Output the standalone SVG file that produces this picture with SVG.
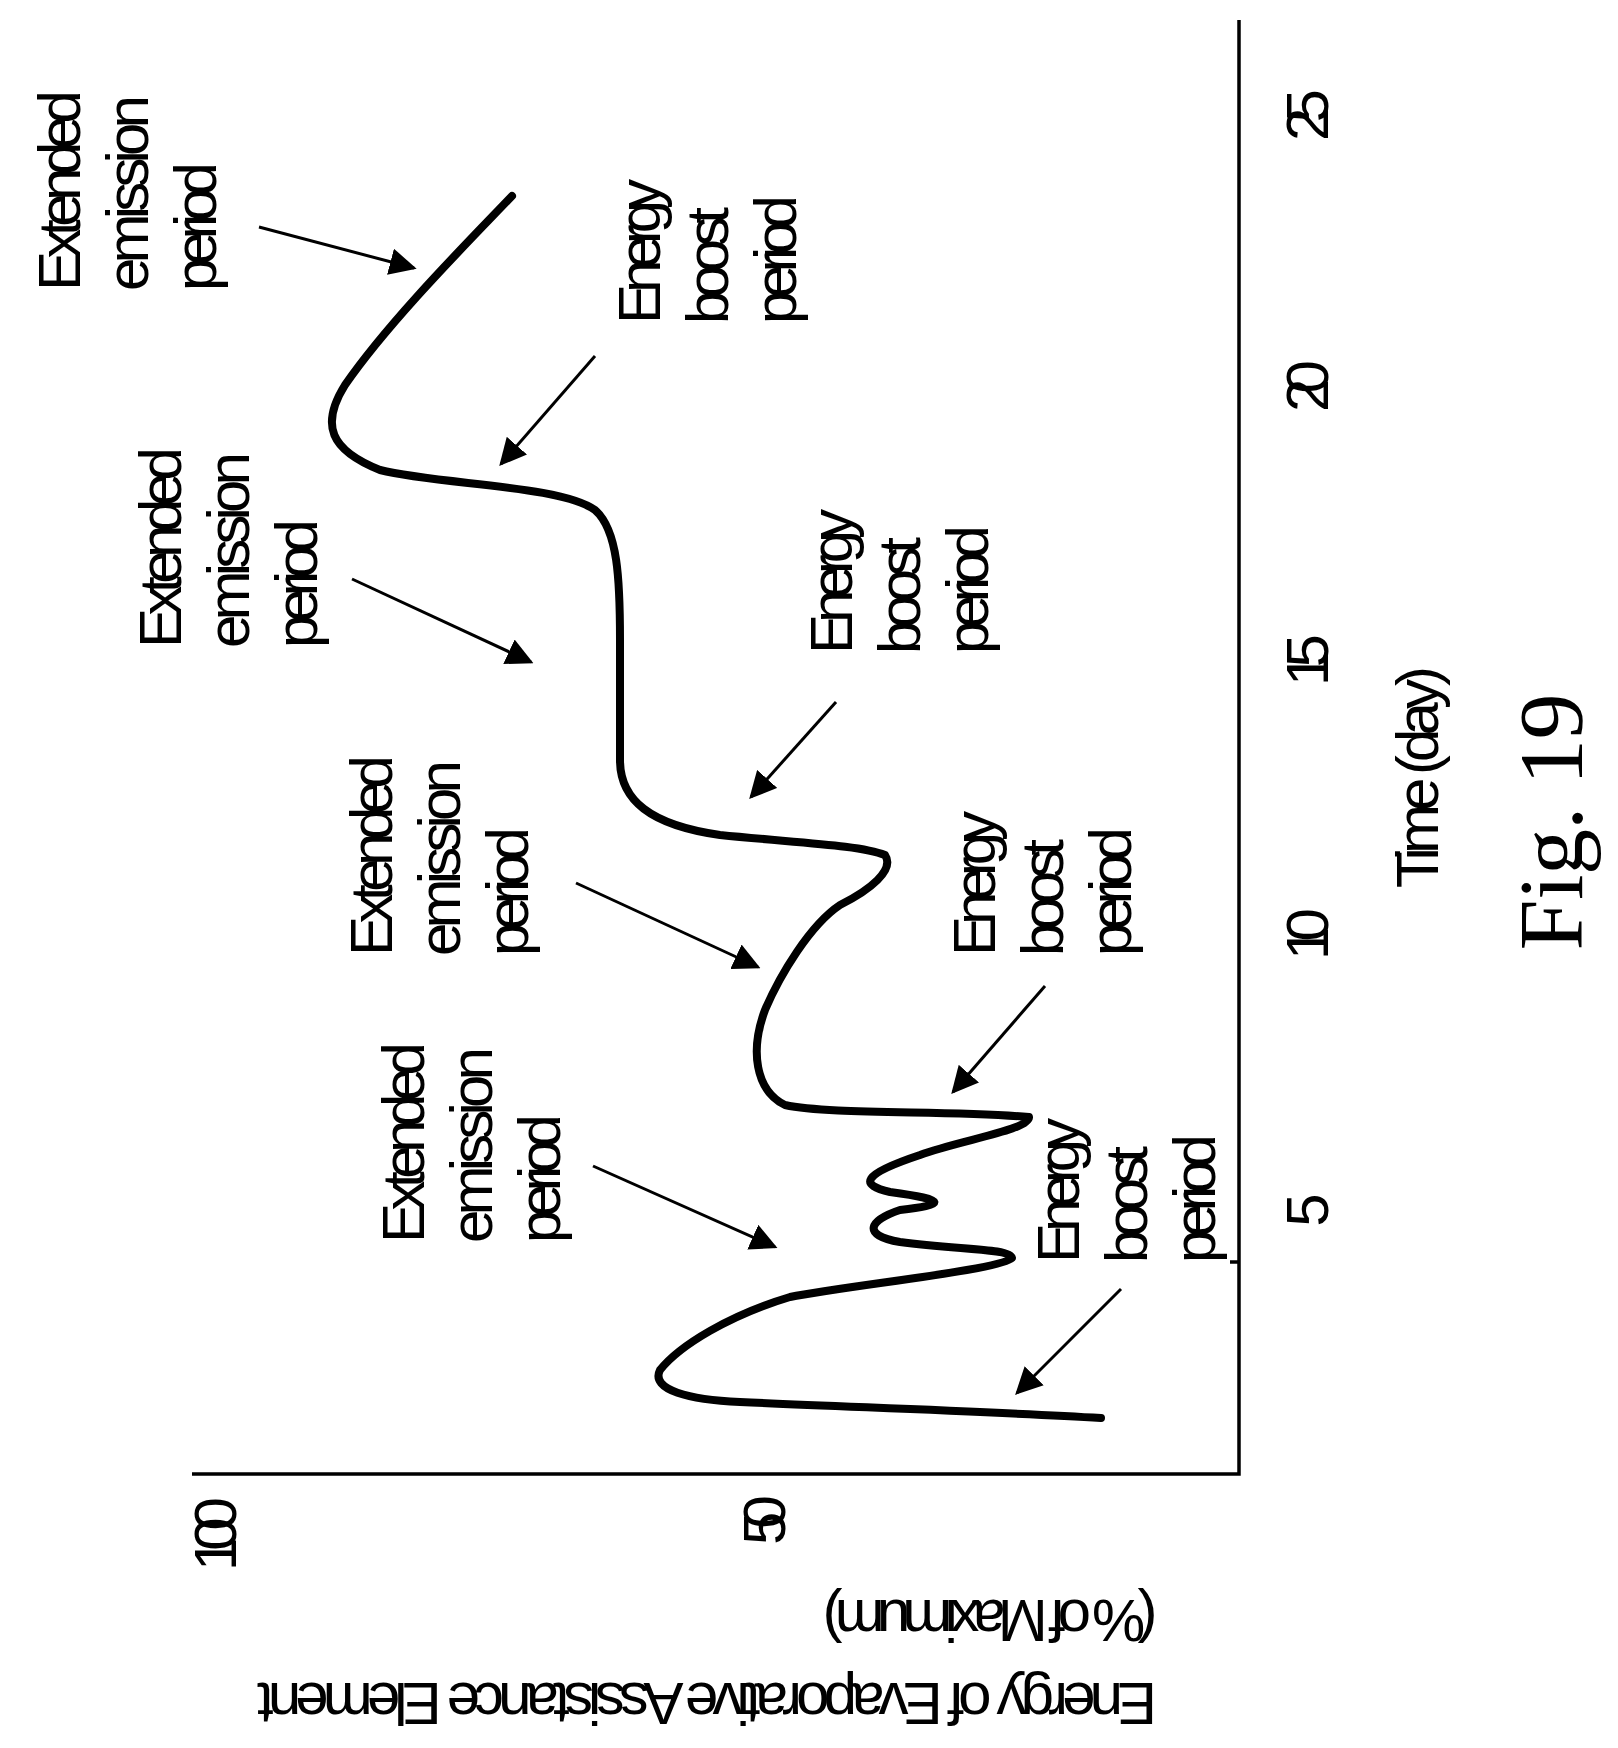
<svg xmlns="http://www.w3.org/2000/svg" width="1618" height="1748" viewBox="0 0 1618 1748">
<style>
text{font-family:"Liberation Sans",Arial,sans-serif;font-size:60px;fill:#000}
.fig{font-family:"Liberation Serif","Times New Roman",serif;font-size:92px}
.ax{stroke:#000;stroke-width:3.5;fill:none}
.arr{stroke:#000;stroke-width:3;fill:none;marker-end:url(#ah)}
</style>
<defs>
<marker id="ah" viewBox="0 0 10 10" refX="9" refY="5" markerWidth="9" markerHeight="9" markerUnits="strokeWidth" orient="auto">
<path d="M0,0 L10,5 L0,10 z" fill="#000"/>
</marker>
</defs>
<rect width="1618" height="1748" fill="#fff"/>
<g id="axes">
<path class="ax" d="M1239,20 L1239,1474 L192,1474"/>
<line class="ax" x1="1239" y1="1262" x2="1230" y2="1262" stroke-width="2"/>
</g>
<g id="ticks">
<text transform="translate(1328,115) rotate(-90)" text-anchor="middle" textLength="52">25</text>
<text transform="translate(1328,386) rotate(-90)" text-anchor="middle" textLength="52">20</text>
<text transform="translate(1328,660) rotate(-90)" text-anchor="middle" textLength="52">15</text>
<text transform="translate(1328,934) rotate(-90)" text-anchor="middle" textLength="52">10</text>
<text transform="translate(1328,1210) rotate(-90)" text-anchor="middle" textLength="26">5</text>
<text transform="translate(236,1534) rotate(-90)" text-anchor="middle" textLength="74">100</text>
<text transform="translate(785,1520) rotate(-90)" text-anchor="middle" textLength="50">50</text>
<text transform="translate(1438,777) rotate(-90)" text-anchor="middle" textLength="222">Time (day)</text>
<text class="fig" transform="translate(1582,822) rotate(-90)" text-anchor="middle" textLength="257">Fig. 19</text>
<text transform="translate(707,1683) rotate(180)" text-anchor="middle" textLength="900">Energy of Evaporative Assistance Element</text>
<text transform="translate(990,1600) rotate(180)" text-anchor="middle" textLength="335">(% of Maximum)</text>
</g>
<g id="curve">
<path d="M512,196 C470,240 390,320 345,385 C320,425 330,450 380,470 C440,485 560,485 595,510 C618,530 620,580 620,640 L620,760 C620,800 650,825 720,835 C800,843 860,845 885,855 C895,870 870,890 840,905 C810,925 780,975 765,1010 C750,1050 755,1090 785,1105 C830,1115 950,1110 1029,1117 C1030,1130 960,1140 920,1155 C860,1175 860,1185 890,1192 C950,1200 945,1205 900,1210 C870,1220 860,1235 900,1242 C960,1250 1010,1248 1012,1258 C1000,1270 850,1285 790,1297 C730,1315 680,1345 660,1370 C650,1390 690,1400 740,1402 C850,1407 1000,1412 1101,1418" fill="none" stroke="#000" stroke-width="8" stroke-linecap="round" stroke-linejoin="round"/>
</g>
<g id="labelA">
<text transform="translate(80,291) rotate(-90)" textLength="201">Extended</text>
<text transform="translate(148,291) rotate(-90)" textLength="196">emission</text>
<text transform="translate(216,291) rotate(-90)" textLength="129">period</text>
</g>
<g id="labelB">
<text transform="translate(181,648) rotate(-90)" textLength="201">Extended</text>
<text transform="translate(249,648) rotate(-90)" textLength="196">emission</text>
<text transform="translate(317,648) rotate(-90)" textLength="129">period</text>
</g>
<g id="labelC">
<text transform="translate(392,956) rotate(-90)" textLength="201">Extended</text>
<text transform="translate(460,956) rotate(-90)" textLength="196">emission</text>
<text transform="translate(528,956) rotate(-90)" textLength="129">period</text>
</g>
<g id="labelD">
<text transform="translate(424,1243) rotate(-90)" textLength="201">Extended</text>
<text transform="translate(492,1243) rotate(-90)" textLength="196">emission</text>
<text transform="translate(560,1243) rotate(-90)" textLength="129">period</text>
</g>
<g id="labelE">
<text transform="translate(660,324) rotate(-90)" textLength="145">Energy</text>
<text transform="translate(728,324) rotate(-90)" textLength="117">boost</text>
<text transform="translate(796,324) rotate(-90)" textLength="129">period</text>
</g>
<g id="labelF">
<text transform="translate(852,654) rotate(-90)" textLength="145">Energy</text>
<text transform="translate(920,654) rotate(-90)" textLength="117">boost</text>
<text transform="translate(988,654) rotate(-90)" textLength="129">period</text>
</g>
<g id="labelG">
<text transform="translate(995,956) rotate(-90)" textLength="145">Energy</text>
<text transform="translate(1063,956) rotate(-90)" textLength="117">boost</text>
<text transform="translate(1131,956) rotate(-90)" textLength="129">period</text>
</g>
<g id="labelH">
<text transform="translate(1079,1263) rotate(-90)" textLength="145">Energy</text>
<text transform="translate(1147,1263) rotate(-90)" textLength="117">boost</text>
<text transform="translate(1215,1263) rotate(-90)" textLength="129">period</text>
</g>
<g id="connectors">
<line class="arr" x1="259" y1="227" x2="414" y2="268"/>
<line class="arr" x1="595" y1="356" x2="501" y2="464"/>
<line class="arr" x1="352" y1="579" x2="531" y2="662"/>
<line class="arr" x1="836" y1="702" x2="751" y2="797"/>
<line class="arr" x1="576" y1="883" x2="758" y2="967"/>
<line class="arr" x1="1045" y1="986" x2="953" y2="1092"/>
<line class="arr" x1="593" y1="1166" x2="775" y2="1247"/>
<line class="arr" x1="1121" y1="1289" x2="1017" y2="1393"/>
</g>
</svg>
